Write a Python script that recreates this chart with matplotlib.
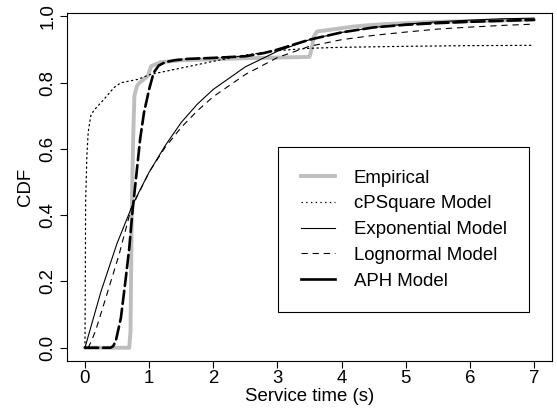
import matplotlib
matplotlib.use("Agg")
import matplotlib.pyplot as plt
from matplotlib.lines import Line2D

plt.rcParams['font.family'] = ['Liberation Sans', 'DejaVu Sans']
plt.rcParams['lines.scale_dashes'] = False

# ---- data ----
emp_x = [0, 0.66, 0.69, 0.71, 0.73, 0.75, 0.77, 0.81, 0.85, 0.98, 1.03, 1.18, 1.5, 2.0, 2.5,
         3.0, 3.5, 3.53, 3.57, 3.62, 3.75, 3.9, 4.2, 4.5, 5.0, 5.5, 6.0, 6.5, 7.0]
emp_y = [0, 0, 0, 0.05, 0.42, 0.62, 0.76, 0.79, 0.80, 0.82, 0.85, 0.862, 0.868, 0.871, 0.874,
         0.876, 0.878, 0.90, 0.94, 0.955, 0.958, 0.962, 0.97, 0.975, 0.98, 0.984, 0.986, 0.988, 0.99]

cps_x = [0, 0.005, 0.01, 0.03, 0.05, 0.09, 0.14, 0.25, 0.35, 0.45, 0.56, 0.82, 1.02, 1.44,
         1.96, 2.48, 3.0, 3.5, 4.0, 5.0, 6.0, 7.0]
cps_y = [0, 0.2, 0.44, 0.58, 0.65, 0.70, 0.717, 0.74, 0.762, 0.785, 0.80, 0.81, 0.825, 0.842,
         0.863, 0.883, 0.897, 0.904, 0.907, 0.91, 0.912, 0.913]

exp_x = [0, 0.25, 0.5, 0.75, 1.0, 1.25, 1.5, 1.75, 2.0, 2.5, 3.0, 3.5, 4.0, 4.5, 5.0, 5.5, 6.0, 6.5, 7.0]
exp_y = [0, 0.17, 0.315, 0.435, 0.53, 0.61, 0.68, 0.735, 0.78, 0.848, 0.895, 0.93, 0.952, 0.967,
         0.977, 0.984, 0.989, 0.993, 0.995]

lgn_x = [0.04, 0.06, 0.1, 0.17, 0.3, 0.53, 0.72, 1.0, 1.25, 1.5, 1.75, 2.0, 2.5, 3.0, 3.5, 4.0,
         4.5, 5.0, 5.5, 6.0, 6.5, 7.0]
lgn_y = [0, 0.004, 0.02, 0.054, 0.135, 0.28, 0.42, 0.53, 0.605, 0.665, 0.715, 0.758, 0.825, 0.876,
         0.91, 0.93, 0.943, 0.953, 0.962, 0.968, 0.973, 0.977]

aph_x = [0, 0.4, 0.44, 0.48, 0.56, 0.63, 0.69, 0.74, 0.8, 0.86, 0.92, 1.0, 1.07, 1.15, 1.25, 1.4,
         1.6, 2.0, 2.5, 2.8, 3.0, 3.2, 3.5, 4.0, 4.5, 5.0, 5.5, 6.0, 6.5, 7.0]
aph_y = [0, 0, 0.005, 0.02, 0.09, 0.2, 0.3, 0.41, 0.52, 0.63, 0.71, 0.78, 0.83, 0.852, 0.862, 0.868,
         0.872, 0.875, 0.88, 0.89, 0.9, 0.912, 0.93, 0.952, 0.967, 0.975, 0.98, 0.984, 0.987, 0.99]

labels = ["Empirical", "cPSquare Model", "Exponential Model", "Lognormal Model", "APH Model"]
x_ticks = [0, 1, 2, 3, 4, 5, 6, 7]
y_ticks = [0.0, 0.2, 0.4, 0.6, 0.8, 1.0]

# ---- figure ----
fig = plt.figure(figsize=(5.57, 4.09), dpi=100)
ax = fig.add_axes([0.1203, 0.1174, 0.8707, 0.852])

fs = 13.4
gray = "#BEBEBE"
ax.plot(emp_x, emp_y, color=gray, lw=2.8, solid_capstyle='round', solid_joinstyle='round')
ax.plot(cps_x, cps_y, color="black", lw=0.9, dashes=(1.0, 2.4), dash_capstyle='round')
ax.plot(exp_x, exp_y, color="black", lw=0.8)
ax.plot(lgn_x, lgn_y, color="black", lw=0.8, dashes=(4.5, 3.5))
ax.plot(aph_x, aph_y, color="black", lw=1.9, dashes=(9.5, 3.5), dash_capstyle='round')

ax.set_xlim(-0.28, 7.28)
ax.set_ylim(-0.04, 1.012)
ax.set_xticks(x_ticks)
ax.set_xticklabels([str(t) for t in x_ticks])
ax.set_yticks(y_ticks)
ax.set_yticklabels(["%.1f" % t for t in y_ticks], rotation=90, va='center')
ax.tick_params(axis='both', direction='out', length=5, width=0.8, labelsize=fs, colors='black')
ax.tick_params(axis='x', pad=1.5)
ax.tick_params(axis='y', pad=2.5)
for s in ax.spines.values():
    s.set_linewidth(0.8)
ax.set_xlabel("Service time (s)", fontsize=fs, labelpad=1)
ax.set_ylabel("CDF", fontsize=fs, labelpad=4)

handles = [
    Line2D([], [], color=gray, lw=2.8),
    Line2D([], [], color="black", lw=0.9, dashes=(1.0, 2.4)),
    Line2D([], [], color="black", lw=0.8),
    Line2D([], [], color="black", lw=0.8, dashes=(4.5, 3.5)),
    Line2D([], [], color="black", lw=1.9),
]
leg = ax.legend(handles, labels, loc='lower right', bbox_to_anchor=(0.9526, 0.1406),
                borderaxespad=0, fontsize=fs, frameon=True, fancybox=False,
                edgecolor='black', framealpha=1, handlelength=1.85, handletextpad=1.0,
                borderpad=1.2, labelspacing=0.47)
leg.get_frame().set_linewidth(0.8)

fig.savefig("out.png", dpi=100)
